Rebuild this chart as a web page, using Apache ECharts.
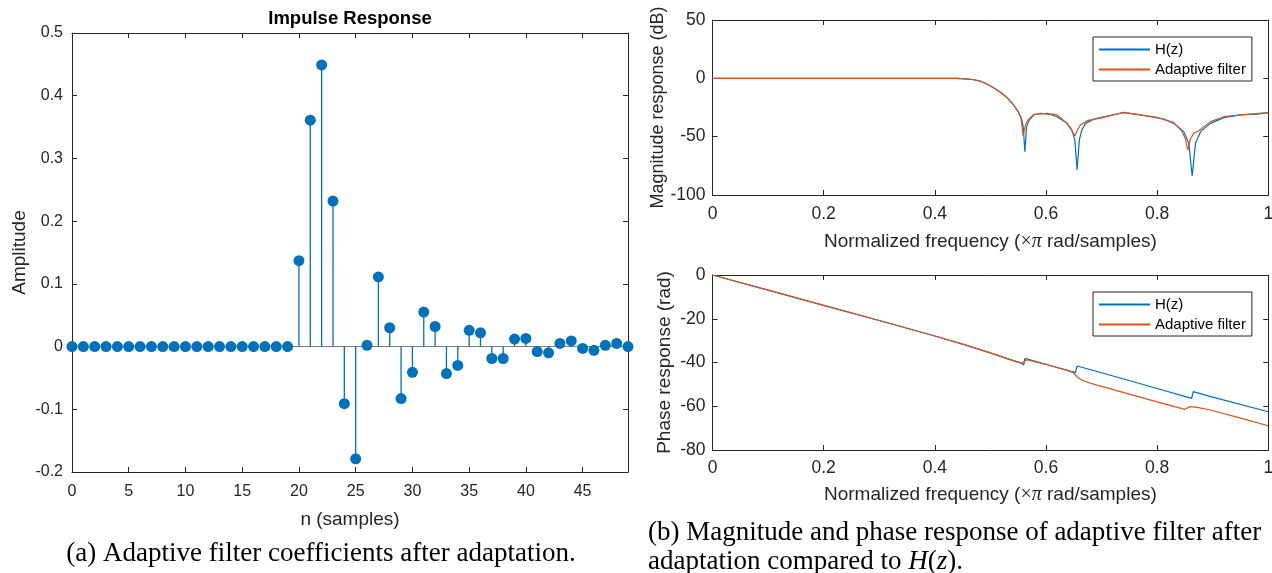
<!DOCTYPE html>
<html><head><meta charset="utf-8">
<script src="https://cdn.jsdelivr.net/npm/echarts@6/dist/echarts.min.js"></script>
<style>html,body{margin:0;padding:0;background:#fff}#c{width:1272px;height:573px}</style>
</head><body><div id="c"></div>
<script>
// ---- Impulse response (adaptive filter coefficients) ----
const sampleIdx = [0,1,2,3,4,5,6,7,8,9,10,11,12,13,14,15,16,17,18,19,20,21,22,23,24,25,26,27,28,29,30,31,32,33,34,35,36,37,38,39,40,41,42,43,44,45,46,47,48,49];
const coefValues = [0,0,0,0,0,0,0,0,0,0,0,0,0,0,0,0,0,0,0,0,
  0.137,0.361,0.449,0.232,-0.091,-0.179,0.002,0.111,0.030,-0.083,
  -0.041,0.055,0.032,-0.043,-0.030,0.026,0.022,-0.019,-0.019,0.012,
  0.013,-0.008,-0.010,0.005,0.009,-0.003,-0.006,0.002,0.005,0.000];
const leftXTicks = [0,5,10,15,20,25,30,35,40,45];

// ---- Magnitude response (dB) ----
const fMagH = [0,0.1,0.2,0.3,0.4,0.44,0.46,0.47,0.48,0.49,0.5,0.51,0.52,0.53,0.54,0.55,0.556,0.559,0.562,0.565,0.569,0.578,0.59,0.605,0.62,0.638,0.647,0.652,0.656,0.66,0.664,0.671,0.686,0.71,0.74,0.764,0.788,0.812,0.83,0.848,0.857,0.863,0.869,0.878,0.896,0.92,0.95,0.98,1.0];
const magH  = [0,0,0,0,0,-0.1,-0.6,-1.2,-2.2,-4.0,-6.6,-9.3,-12.6,-16.6,-21.8,-28.5,-34.5,-41,-62.9,-42,-36.5,-31.4,-30,-30.6,-32.9,-38.6,-45,-53,-78.6,-53,-45,-38.6,-35,-32.3,-29.4,-30.9,-32.9,-35,-38.6,-45.7,-55.7,-83.7,-55.7,-45.7,-38.6,-33.7,-31.4,-30.6,-29.4];
const fMagA = [0,0.1,0.2,0.3,0.4,0.44,0.46,0.47,0.48,0.49,0.5,0.51,0.52,0.53,0.54,0.55,0.555,0.559,0.563,0.567,0.578,0.602,0.62,0.638,0.646,0.652,0.657,0.662,0.674,0.704,0.74,0.77,0.8,0.83,0.845,0.851,0.855,0.86,0.866,0.875,0.896,0.92,0.95,1.0];
const magA  = [0,0,0,0,0,-0.1,-0.6,-1.2,-2.2,-4.0,-6.6,-9.3,-12.6,-16.6,-21.8,-28.5,-34,-49.4,-40,-36,-30.9,-30,-31.4,-38.6,-44,-49.4,-44,-40,-36.3,-33.4,-29.1,-31.4,-33.4,-38,-45.7,-52,-61.4,-52,-47,-44.9,-37.1,-32.9,-31.4,-29.4];

// ---- Phase response (rad) ----
const fPhH = [0,0.1,0.2,0.3,0.4,0.45,0.5,0.53,0.556,0.560,0.562,0.6,0.653,0.656,0.7,0.8,0.862,0.865,0.9,1.0];
const phH  = [0,-6.9,-13.9,-20.8,-27.9,-31.6,-35.6,-38.2,-40.3,-41.1,-38.1,-40.8,-44.6,-41.6,-44.7,-51.9,-56.4,-53.3,-55.8,-62.5];
const fPhA = [0,0.1,0.2,0.3,0.4,0.45,0.5,0.53,0.556,0.559,0.565,0.6,0.64,0.65,0.656,0.664,0.68,0.7,0.8,0.845,0.85,0.858,0.872,0.896,0.95,1.0];
const phA  = [0,-6.9,-13.9,-20.8,-27.9,-31.6,-35.6,-38.2,-40.4,-40.2,-38.7,-40.9,-43.7,-44.8,-46.6,-48.0,-49.5,-50.9,-58.0,-61.1,-61.4,-60.2,-60.5,-61.7,-65.4,-68.9];

const seriesNames = ['H(z)','Adaptive filter'];

const BLUE = '#0072BD', ORANGE = '#D95319', AX = '#262626';
const FONT = '"Liberation Sans", Arial, Helvetica, sans-serif';
const SERIF = '"Liberation Serif", "Times New Roman", serif';
const pairs = (xs, ys) => xs.map((x, i) => [x, ys[i]]);

function axis(kind, g, min, max, interval, pos, o) {
  o = o || {};
  const showLabel = (pos === 'bottom' || pos === 'left');
  return {
    type: 'value', gridIndex: g, min, max, interval, position: pos,
    name: o.name || '', nameLocation: 'middle', nameGap: o.nameGap || 0,
    nameTextStyle: {color: AX, fontSize: o.nfs || 19, fontFamily: FONT, rich: {
      m: {fontFamily: SERIF, fontSize: 20, color: AX},
      p: {fontFamily: SERIF, fontSize: 20, fontStyle: 'italic', color: AX}
    }},
    axisLine: {show: true, onZero: false, lineStyle: {color: AX, width: 1}},
    axisTick: {show: true, inside: true, length: 5, lineStyle: {color: AX, width: 1}},
    axisLabel: Object.assign({show: showLabel, color: AX, fontSize: o.fs || 16, fontFamily: FONT,
      margin: o.margin || 9}, o.label || {}),
    splitLine: {show: false}, minorTick: {show: false}
  };
}

const legendBase = {
  data: seriesNames, orient: 'vertical', left: 1093,
  itemWidth: 51, itemHeight: 14, itemGap: 5, padding: [5, 6, 4, 5],
  borderColor: AX, borderWidth: 1, backgroundColor: '#fff', borderRadius: 0,
  itemStyle: {opacity: 0},
  textStyle: {color: '#000', fontSize: 15, fontFamily: FONT}, selectedMode: false
};

const FREQ_NAME = 'Normalized frequency ({m|×}{p|π} rad/samples)';

const option = {
  backgroundColor: '#fff', animation: false,
  grid: [
    {left: 72, right: 644, top: 33, bottom: 101, outerBoundsMode: 'none', containLabel: false},
    {left: 712.5, right: 3.7, top: 20, bottom: 378, outerBoundsMode: 'none', containLabel: false},
    {left: 712.5, right: 3.7, top: 275, bottom: 123, outerBoundsMode: 'none', containLabel: false}
  ],
  xAxis: [
    axis('x', 0, 0, 49, 5, 'bottom', {name: 'n (samples)', nameGap: 38, fs: 16, margin: 12,
      label: {showMaxLabel: false, formatter: v => leftXTicks.indexOf(v) >= 0 ? String(v) : ''}}),
    axis('x', 0, 0, 49, 5, 'top'),
    axis('x', 1, 0, 1, 0.2, 'bottom', {name: FREQ_NAME, nameGap: 37, fs: 17.5, margin: 10}),
    axis('x', 1, 0, 1, 0.2, 'top'),
    axis('x', 2, 0, 1, 0.2, 'bottom', {name: FREQ_NAME, nameGap: 35, fs: 17.5, margin: 9}),
    axis('x', 2, 0, 1, 0.2, 'top')
  ],
  yAxis: [
    axis('y', 0, -0.2, 0.5, 0.1, 'left', {name: 'Amplitude', nameGap: 43, fs: 16, margin: 9}),
    axis('y', 0, -0.2, 0.5, 0.1, 'right'),
    axis('y', 1, -100, 50, 50, 'left', {name: 'Magnitude response (dB)', nameGap: 45, nfs: 18, fs: 17.5, margin: 7}),
    axis('y', 1, -100, 50, 50, 'right'),
    axis('y', 2, -80, 0, 20, 'left', {name: 'Phase response (rad)', nameGap: 38.5, fs: 17.5, margin: 7}),
    axis('y', 2, -80, 0, 20, 'right')
  ],
  legend: [
    Object.assign({}, legendBase, {top: 37}),
    Object.assign({}, legendBase, {top: 292})
  ],
  graphic: [
    {type: 'text', x: 350, y: 19, style: {text: 'Impulse Response', fontSize: 18.5, fontWeight: 'bold',
      fontFamily: FONT, fill: '#000', align: 'center', verticalAlign: 'middle'}},
    {type: 'text', x: 321, y: 554, style: {text: '(a) Adaptive filter coefficients after adaptation.',
      fontSize: 27, fontFamily: SERIF, fill: '#000', align: 'center', verticalAlign: 'middle'}},
    {type: 'text', x: 648, y: 533, style: {text: '(b) Magnitude and phase response of adaptive filter after',
      fontSize: 27, fontFamily: SERIF, fill: '#000', align: 'left', verticalAlign: 'middle'}},
    {type: 'text', x: 648, y: 562, style: {text: 'adaptation compared to {i|H}({i|z}).',
      fontSize: 27, fontFamily: SERIF, fill: '#000', align: 'left', verticalAlign: 'middle',
      rich: {i: {fontSize: 27, fontFamily: SERIF, fontStyle: 'italic', fill: '#000'}}}}
  ],
  series: [
    {type: 'bar', name: 'stems', xAxisIndex: 0, yAxisIndex: 0, data: pairs(sampleIdx, coefValues),
      barWidth: 1.3, itemStyle: {color: BLUE}, silent: true, z: 2,
      markLine: {silent: true, symbol: 'none', label: {show: false}, z: 1,
        lineStyle: {color: '#7f7f7f', width: 1, type: 'solid'}, emphasis: {disabled: true},
        data: [{yAxis: 0}]}},
    {type: 'scatter', name: 'markers', xAxisIndex: 0, yAxisIndex: 0, data: pairs(sampleIdx, coefValues),
      symbol: 'circle', symbolSize: 11, itemStyle: {color: BLUE, opacity: 1}, clip: false, silent: true, z: 4},
    {type: 'line', name: seriesNames[0], xAxisIndex: 2, yAxisIndex: 2, data: pairs(fMagH, magH),
      symbol: 'none', showSymbol: false, lineStyle: {color: BLUE, width: 1.2}, itemStyle: {color: BLUE}, z: 2},
    {type: 'line', name: seriesNames[1], xAxisIndex: 2, yAxisIndex: 2, data: pairs(fMagA, magA),
      symbol: 'none', showSymbol: false, lineStyle: {color: ORANGE, width: 1.2}, itemStyle: {color: ORANGE}, z: 3},
    {type: 'line', name: seriesNames[0], xAxisIndex: 4, yAxisIndex: 4, data: pairs(fPhH, phH),
      symbol: 'none', showSymbol: false, lineStyle: {color: BLUE, width: 1.2}, itemStyle: {color: BLUE}, z: 2},
    {type: 'line', name: seriesNames[1], xAxisIndex: 4, yAxisIndex: 4, data: pairs(fPhA, phA),
      symbol: 'none', showSymbol: false, lineStyle: {color: ORANGE, width: 1.2}, itemStyle: {color: ORANGE}, z: 3}
  ]
};
const chart = echarts.init(document.getElementById('c'), null, {renderer: 'canvas'});
chart.setOption(option);
</script></body></html>
